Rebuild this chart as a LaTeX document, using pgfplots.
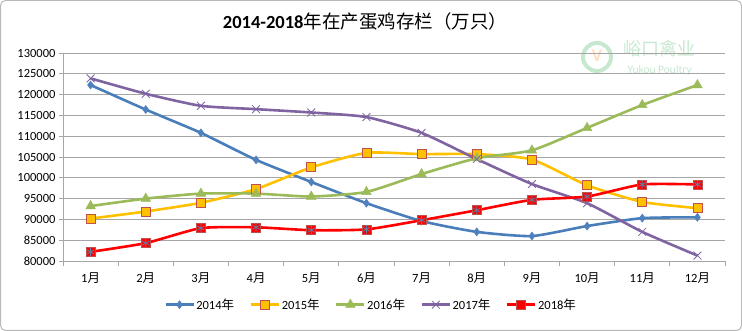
\documentclass[border=0pt]{standalone}
\usepackage{pgfplots}
\pgfplotsset{compat=1.18}
\usepackage{fontspec}
\setmainfont{Carlito}
\newfontfamily\cjk{Noto Sans CJK SC}
\definecolor{c14}{HTML}{4A7EBB}
\definecolor{c14m}{HTML}{4F81BD}
\definecolor{c15}{HTML}{FFC000}
\definecolor{c15b}{HTML}{C0504D}
\definecolor{c16}{HTML}{9BBB59}
\definecolor{c17}{HTML}{8064A2}
\definecolor{c18}{HTML}{FF0000}
\definecolor{gridc}{HTML}{A6A6A6}
\definecolor{wm}{HTML}{C6E8CF}
\newcommand\yue{{\cjk 月}}
\begin{document}
\begin{tikzpicture}[x=1pt,y=1pt]
\draw[gray!55, line width=1pt, rounded corners=5pt] (0.5,0.5) rectangle (741.5,330.5);
% watermark
\node[circle, draw=wm, line width=4pt, minimum size=28pt] at (597,274) {};
\node[text=orange!25, font=\bfseries\fontsize{18}{18}\selectfont] at (597,275) {V};
\node[text=wm, anchor=west, font=\cjk\fontsize{18}{18}\selectfont] at (620,282) {峪口禽业};
\node[text=wm, anchor=west, font=\fontsize{11.5}{11.5}\selectfont] at (624,261) {Yukou Poultry};
\node[font=\fontsize{18.5}{20}\selectfont] at (365,310) {\textbf{2014-2018}{\cjk 年在产蛋鸡存栏（万只）}};
\begin{axis}[
  at={(63pt,70pt)}, anchor=south west,
  scale only axis, width=662pt, height=208pt,
  xmin=0.5, xmax=12.5, ymin=80000, ymax=130000,
  xtick={1,...,12},
  xticklabels={1\yue,2\yue,3\yue,4\yue,5\yue,6\yue,7\yue,8\yue,9\yue,10\yue,11\yue,12\yue},
  major x tick style={draw=none},
  minor xtick={0.5,1.5,...,12.5},
  x tick style={gridc, line width=0.8pt},
  minor tick length=5pt,
  tick align=outside,
  ytick={80000,85000,...,130000},
  y tick style={gridc, line width=0.8pt},
  major tick length=4pt,
  ymajorgrids, grid style={gridc, line width=0.8pt},
  axis x line*=bottom, axis y line*=left,
  axis line style={gridc, line width=0.8pt},
  y axis line style={-}, x axis line style={-},
  /pgf/number format/assume math mode=true,
  scaled y ticks=false,
  yticklabel style={/pgf/number format/fixed, /pgf/number format/precision=0, /pgf/number format/set thousands separator={}},
  ticklabel style={font=\fontsize{12.5}{14}\selectfont, text=black},
  xticklabel style={yshift=-4pt},
  legend style={at={(0.465,-0.21)}, anchor=center, draw=none, legend columns=5,
    font=\fontsize{12.5}{14}\selectfont, column sep=0pt, /tikz/every even column/.append style={column sep=14pt},
    nodes={inner xsep=1.5pt}},
  legend image code/.code={\draw[#1, mark repeat=2, mark phase=2] plot coordinates {(0pt,0pt) (14pt,0pt) (28pt,0pt)};},
  every axis plot/.append style={line width=2.6pt, smooth, tension=0.35},
]
\addplot[c14, mark=diamond*, mark size=4pt, mark options={fill=c14m, draw=c14m, line width=0.5pt}]
 coordinates {(1,122300)(2,116400)(3,110800)(4,104300)(5,99000)(6,93900)(7,89600)(8,87000)(9,86000)(10,88400)(11,90300)(12,90500)};
\addlegendentry{2014{\cjk 年}}
\addplot[c15, mark=square*, mark size=4.5pt, mark options={fill=c15, draw=c15b, line width=0.8pt}]
 coordinates {(1,90200)(2,91900)(3,94000)(4,97300)(5,102500)(6,106000)(7,105700)(8,105700)(9,104400)(10,98200)(11,94200)(12,92700)};
\addlegendentry{2015{\cjk 年}}
\addplot[c16, mark=triangle*, mark size=5.5pt, mark options={fill=c16, draw=c16, line width=0.5pt}]
 coordinates {(1,93200)(2,95000)(3,96200)(4,96200)(5,95500)(6,96600)(7,100900)(8,104700)(9,106600)(10,112000)(11,117500)(12,122300)};
\addlegendentry{2016{\cjk 年}}
\addplot[c17, mark=x, mark size=5.5pt, mark options={draw=c17, line width=0.8pt}]
 coordinates {(1,123900)(2,120200)(3,117300)(4,116500)(5,115700)(6,114600)(7,110800)(8,104500)(9,98500)(10,93900)(11,87000)(12,81300)};
\addlegendentry{2017{\cjk 年}}
\addplot[c18, mark=square*, mark size=4.5pt, mark options={fill=c18, draw=c15b, line width=0.6pt}]
 coordinates {(1,82200)(2,84300)(3,87900)(4,88100)(5,87400)(6,87600)(7,89800)(8,92200)(9,94700)(10,95500)(11,98400)(12,98400)};
\addlegendentry{2018{\cjk 年}}
\addplot[only marks, mark=asterisk, mark size=4pt, mark options={draw=c14m!70!gray, line width=0.7pt}, forget plot]
 coordinates {(1,82200)(2,84300)(3,87900)(4,88100)(5,87400)(6,87600)(7,89800)(8,92200)(9,94700)(10,95500)(11,98400)(12,98400)};
\end{axis}
\end{tikzpicture}
\end{document}
